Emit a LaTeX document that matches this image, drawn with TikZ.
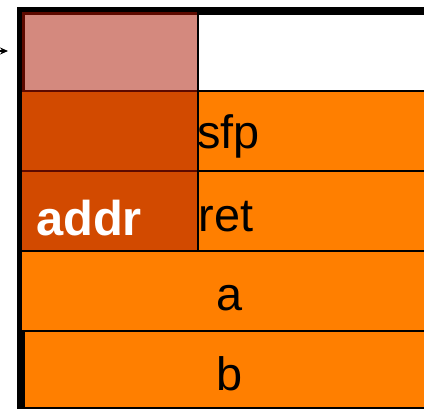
\documentclass[tikz,border=0pt]{standalone}
\usepackage{fontspec}
\setmainfont{Liberation Sans}
\usetikzlibrary{arrows.meta}
\definecolor{frameorange}{HTML}{FF7F00}
\definecolor{framered}{HTML}{D24A00}
\definecolor{framepink}{HTML}{D4897E}
\definecolor{framedark}{HTML}{5C0A00}
\tikzset{
  lbl/.style={inner sep=0pt, font=\fontsize{47}{50}\selectfont},
  boldlbl/.style={lbl, font=\fontsize{49}{52}\selectfont\bfseries, text=white},
}
\begin{document}
\begin{tikzpicture}[x=1bp,y=-1bp]
  \useasboundingbox (0,0) rectangle (424,409);
  \clip (0,0) rectangle (424,409);
  \fill[white] (0,0) rectangle (424,409);

  % stack frame outline (cells are cut out of it, leaving the black rules)
  \fill[black] (17,7) rectangle (424,409);

  % right column
  \fill[white] (198.5,15) rectangle (424,89.5);
  \fill[frameorange] (198.5,91.5) rectangle (424,169.5);
  \fill[frameorange] (198.5,171.5) rectangle (424,249.5);

  % full-width rows
  \fill[frameorange] (22,251.5) rectangle (424,329.5);
  \fill[frameorange] (25,331.5) rectangle (424,407);

  % left column: highlighted region
  \fill[framedark] (22,12) rectangle (196.5,249.5);
  \fill[framepink] (25,15) rectangle (196.5,89.5);
  \fill[framered] (22,91.5) rectangle (196.5,169.5);
  \fill[framered] (22,171.5) rectangle (196.5,249.5);

  % labels
  \node[lbl, anchor=base west] (sfp) at (197,148) {sfp};
  \node[lbl, anchor=base west] (ret) at (198.5,231) {ret};
  \node[boldlbl, anchor=base west] (addr) at (36,235) {addr};
  \node[lbl, anchor=base] (a) at (229.5,310) {a};
  \node[lbl, anchor=base] (b) at (229.5,390) {b};

  % pointer arriving from the left
  \coordinate (ptrfrom) at (-20,51);
  \coordinate (ptrto) at (8,51);
  \draw[line width=1.2bp, -{Stealth[length=8bp,width=7bp]}] (ptrfrom) -- (ptrto);
\end{tikzpicture}
\end{document}
